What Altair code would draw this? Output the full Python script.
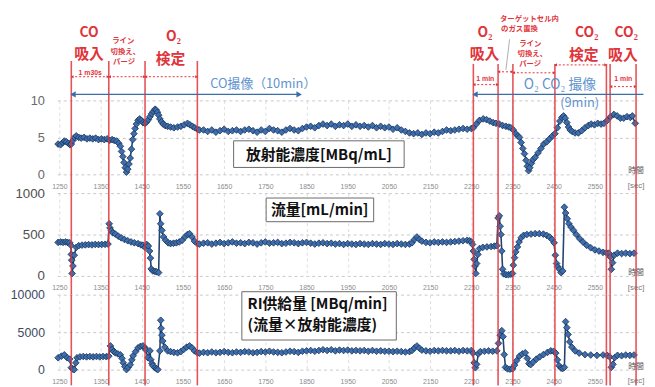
import altair as alt
import pandas as pd

JP = "Noto Sans CJK JP"
LAT = "Liberation Sans"

# ---------------- data ----------------
x_ticks = [1250, 1350, 1450, 1550, 1650, 1750, 1850, 1950, 2050, 2150, 2250, 2350, 2450, 2550]
event_left = [1279, 1370, 1458, 1585]
event_right = [2255, 2315, 2351, 2453, 2578, 2587, 2650]

conc = [(1247,4.1),(1253,4.0),(1258,4.3),(1262,4.5),(1267,4.4),(1272,4.2),(1276,4.0),(1279,4.1),(1283,4.6),
        (1287,5.0),(1291,5.2),(1297,5.0),(1303,4.9),(1310,5.0),(1317,4.8),(1324,4.9),(1331,4.8),(1338,4.9),
        (1345,4.7),(1352,4.8),(1359,4.7),(1366,4.8),(1372,4.6),(1378,4.7),(1383,4.6),(1389,4.5),(1394,4.2),
        (1398,3.8),(1401,3.1),(1404,2.4),(1407,1.6),(1410,0.9),(1413,0.3),(1416,0.7),(1419,1.4),(1422,2.2),
        (1425,3.4),(1428,4.7),(1431,5.5),(1434,6.2),(1437,6.8),(1441,7.3),(1445,7.5),(1449,7.3),(1453,7.0),
        (1458,6.9),(1462,7.1),(1466,7.4),(1470,7.8),(1474,8.2),(1478,8.5),(1482,8.8),(1485,8.7),(1488,8.4),
        (1491,8.0),(1494,7.5),(1498,7.1),(1502,6.8),(1507,6.6),(1513,6.5),(1520,6.4),(1528,6.3),(1537,6.4),
        (1545,6.5),(1553,6.7),(1561,6.9),(1567,6.7),(1573,6.5),(1579,6.3),(1585,6.1),(1590,6.0),(1600,6.0),
        (1610,5.8),(1620,6.0),(1630,5.7),(1640,5.9),(1650,6.1),(1660,5.8),(1670,5.9),(1680,6.0),(1690,5.8),
        (1700,6.0),(1710,6.1),(1720,5.9),(1730,5.7),(1740,6.0),(1750,5.8),(1760,6.2),(1770,6.0),(1780,5.9),
        (1790,5.7),(1800,6.0),(1810,6.2),(1820,6.0),(1830,5.9),(1840,6.2),(1850,6.4),(1860,6.5),(1870,6.3),
        (1880,6.6),(1890,6.8),(1900,6.6),(1910,6.8),(1920,6.5),(1930,6.7),(1940,6.6),(1950,6.8),(1960,6.5),
        (1970,6.7),(1980,6.5),(1990,6.6),(2000,6.4),(2010,6.6),(2020,6.3),(2030,6.5),(2040,6.3),(2050,6.4),
        (2060,6.1),(2070,6.3),(2080,6.0),(2090,5.8),(2100,5.6),(2110,5.5),(2120,5.6),(2130,5.4),(2140,5.6),
        (2150,5.5),(2160,5.7),(2170,5.6),(2180,5.8),(2190,6.0),(2200,5.9),(2210,6.0),(2220,6.1),(2230,6.2),
        (2240,6.1),(2250,6.2),(2255,6.3),(2262,6.8),(2270,7.3),(2279,7.5),(2287,7.4),(2295,7.2),(2303,7.0),
        (2310,6.9),(2318,6.8),(2326,6.6),(2334,6.5),(2341,6.4),(2346,6.3),(2352,6.0),(2358,5.5),(2363,5.2),
        (2367,5.0),(2371,4.3),(2375,3.5),(2379,2.8),(2383,1.9),(2386,1.1),(2389,0.5),(2392,0.9),(2396,1.5),
        (2400,2.0),(2405,2.3),(2412,2.9),(2419,3.5),(2426,4.1),(2433,4.4),(2440,4.8),(2447,5.2),(2453,5.5),
        (2459,6.3),(2465,7.2),(2470,7.7),(2474,7.9),(2478,7.6),(2482,7.0),(2486,6.4),(2490,6.0),(2495,5.8),
        (2502,5.6),(2510,5.6),(2518,5.9),(2526,6.3),(2534,6.6),(2541,6.8),(2549,6.7),(2557,6.9),(2565,6.8),
        (2572,6.9),(2580,7.3),(2588,7.8),(2596,8.1),(2604,7.9),(2612,7.6),(2620,7.6),(2628,7.8),(2636,7.7),
        (2641,7.9),(2648,6.9)]

flow = [(1247,405),(1253,410),(1259,405),(1265,410),(1270,405),(1275,400),(1278,370),(1279,260),(1280,190),
        (1281,30),(1283,120),(1286,250),(1291,345),(1297,365),(1305,372),(1313,375),(1321,378),(1329,375),
        (1337,380),(1345,378),(1353,380),(1361,382),(1368,385),(1371,630),(1373,580),(1376,545),(1380,520),
        (1386,505),(1393,480),(1400,460),(1408,440),(1416,425),(1424,410),(1432,400),(1441,390),(1448,375),
        (1453,370),(1458,345),(1462,380),(1466,360),(1469,300),(1471,215),(1473,85),(1477,60),(1482,55),
        (1486,50),(1491,40),(1494,750),(1496,630),(1499,550),(1503,470),(1508,430),(1514,400),(1520,390),
        (1527,395),(1534,400),(1541,410),(1548,430),(1555,470),(1561,500),(1566,510),(1572,470),(1578,420),
        (1585,390),(1590,385),(1600,395),(1610,400),(1620,385),(1630,395),(1640,405),(1650,390),(1660,400),
        (1670,410),(1680,395),(1690,400),(1700,390),(1710,405),(1720,400),(1730,385),(1740,400),(1750,410),
        (1760,395),(1770,400),(1780,405),(1790,390),(1800,395),(1810,405),(1820,400),(1830,390),(1840,400),
        (1850,405),(1860,395),(1870,385),(1880,395),(1890,400),(1900,390),(1910,395),(1920,385),(1930,390),
        (1940,380),(1950,390),(1960,385),(1970,380),(1980,390),(1990,385),(2000,380),(2010,390),(2020,385),
        (2030,380),(2040,390),(2050,385),(2060,380),(2070,390),(2080,385),(2090,380),(2100,385),(2106,400),
        (2112,440),(2118,470),(2124,440),(2130,420),(2140,405),(2150,400),(2160,410),(2170,405),(2180,410),
        (2190,405),(2200,410),(2210,415),(2220,420),(2230,425),(2240,430),(2246,425),(2250,410),(2253,380),
        (2255,300),(2257,200),(2259,120),(2261,30),(2263,150),(2266,260),(2270,330),(2278,345),(2288,350),
        (2298,355),(2306,360),(2312,365),(2315,700),(2318,725),(2320,600),(2322,500),(2324,300),(2326,80),
        (2329,25),(2334,15),(2340,15),(2346,20),(2350,30),(2352,130),(2355,220),(2358,290),(2362,350),
        (2366,410),(2371,460),(2377,490),(2385,500),(2395,505),(2405,510),(2415,510),(2425,505),(2433,490),
        (2440,470),(2446,440),(2451,400),(2454,250),(2457,150),(2460,110),(2464,80),(2468,40),(2472,60),
        (2476,830),(2479,760),(2483,690),(2487,630),(2492,590),(2498,550),(2505,500),(2513,450),(2521,410),
        (2530,370),(2540,340),(2550,315),(2560,300),(2570,285),(2578,280),(2584,275),(2587,230),(2590,80),
        (2593,160),(2597,250),(2605,275),(2615,270),(2625,275),(2635,270),(2645,275)]

ri = [(1247,1580),(1255,1800),(1262,1970),(1269,1580),(1275,1400),(1279,260),(1283,60),(1286,0),(1290,900),
      (1293,1580),(1300,1700),(1308,1750),(1316,1700),(1324,1750),(1332,1700),(1340,1750),(1348,1700),
      (1356,1750),(1364,1720),(1370,1800),(1374,3160),(1378,2700),(1382,2400),(1386,2240),(1392,2100),
      (1398,1970),(1402,1500),(1405,920),(1409,400),(1413,0),(1417,300),(1422,660),(1426,1300),(1429,1840),
      (1435,2400),(1441,2900),(1447,3100),(1453,3160),(1458,2900),(1460,2630),(1465,1580),(1470,2500),
      (1472,1320),(1475,800),(1477,520),(1482,250),(1486,100),(1489,0),(1494,2500),(1496,6580),(1497,5520),
      (1499,4600),(1501,3820),(1506,3000),(1513,2500),(1520,2400),(1528,2300),(1537,2240),(1545,2400),
      (1552,2700),(1559,3000),(1566,3160),(1572,2900),(1578,2500),(1585,2240),(1590,2200),(1600,2300),
      (1610,2250),(1620,2350),(1630,2250),(1640,2300),(1650,2400),(1660,2300),(1670,2250),(1680,2350),
      (1690,2300),(1700,2400),(1710,2350),(1720,2250),(1730,2300),(1740,2400),(1750,2350),(1760,2450),
      (1770,2350),(1780,2300),(1790,2250),(1800,2350),(1810,2450),(1820,2400),(1830,2300),(1840,2450),
      (1850,2500),(1860,2550),(1870,2450),(1880,2550),(1890,2650),(1900,2550),(1910,2650),(1920,2500),
      (1930,2600),(1940,2550),(1950,2600),(1960,2500),(1970,2550),(1980,2500),(1990,2550),(2000,2450),
      (2010,2550),(2020,2450),(2030,2500),(2040,2450),(2050,2450),(2060,2400),(2070,2450),(2080,2400),
      (2090,2350),(2100,2400),(2106,2550),(2112,2900),(2118,3150),(2124,2850),(2130,2600),(2140,2500),
      (2150,2450),(2160,2550),(2170,2500),(2180,2550),(2190,2500),(2200,2500),(2210,2550),(2220,2450),
      (2230,2550),(2240,2500),(2250,2550),(2254,2200),(2257,900),(2260,250),(2263,700),(2267,2100),
      (2272,2400),(2282,2450),(2292,2500),(2302,2450),(2312,2500),(2316,3500),(2320,4600),(2324,5200),
      (2327,4400),(2330,2000),(2333,300),(2338,100),(2344,50),(2350,100),(2355,600),(2360,1200),(2367,1800),
      (2374,2100),(2381,2240),(2386,1500),(2390,800),(2394,660),(2400,1000),(2408,1400),(2416,1700),
      (2425,2000),(2435,2300),(2443,2500),(2450,2450),(2455,2200),(2459,1300),(2463,520),(2468,200),
      (2472,150),(2476,300),(2479,6400),(2482,5600),(2485,4700),(2489,3700),(2494,3000),(2502,2500),
      (2512,2200),(2526,2000),(2540,1950),(2555,1900),(2570,1950),(2580,1900),(2586,1700),(2590,300),
      (2594,700),(2598,1600),(2605,1900),(2615,1850),(2625,1950),(2635,1900),(2645,1950)]

# ---------------- helpers ----------------
XS = alt.Scale(domain=[1245, 2655], nice=False, zero=False)
XAX = alt.Axis(values=x_ticks, labelFontSize=7, labelColor="#8c8c8c", labelFont=LAT, labelPadding=8,
               domain=False, ticks=False, tickSize=0, grid=True, gridDash=[3, 3], gridColor="#dcdcdc",
               title=None, labelFlush=False, format="d")
W = 589
H1, H2, H3 = 75, 84, 76
GAP = 19
RED = "#e0343b"
BLUE_LINE = "#3b6ea8"
BLUE_TXT = "#5f93cf"


def xenc(field="t"):
    return alt.X(f"{field}:Q", scale=XS, axis=XAX)


def text_layer(rows, size, color, weight="normal", font=JP, align="center"):
    df = pd.DataFrame(rows, columns=["s", "t", "y"])
    return alt.Chart(df).mark_text(fontSize=size, color=color, fontWeight=weight, font=font,
                                   align=align, baseline="middle").encode(
        x=xenc(), y=alt.Y("y:Q", scale=None), text="s:N")


def seg_layer(rows, color, width, dash=None):
    df = pd.DataFrame(rows, columns=["t1", "t2", "y"])
    kw = dict(color=color, strokeWidth=width)
    if dash:
        kw["strokeDash"] = dash
    return alt.Chart(df).mark_rule(**kw).encode(x=xenc("t1"), x2="t2:Q", y=alt.Y("y:Q", scale=None))


def head_layer(rows, shape, color, size):
    df = pd.DataFrame(rows, columns=["t", "y"])
    return alt.Chart(df).mark_point(shape=shape, filled=True, color=color, size=size, opacity=1).encode(
        x=xenc(), y=alt.Y("y:Q", scale=None))


def event_layer(times, top, bottom):
    df = pd.DataFrame({"t": times})
    return alt.Chart(df).mark_rule(color=RED, strokeWidth=1.6, opacity=0.85).encode(
        x=xenc(), y=alt.value(top), y2=alt.value(bottom))


def box_layer(t1, t2, y1, y2):
    df = pd.DataFrame({"t1": [t1], "t2": [t2]})
    return alt.Chart(df).mark_rect(fill="white", stroke="#6a6a6a", strokeWidth=1).encode(
        x=xenc("t1"), x2="t2:Q", y=alt.value(y1), y2=alt.value(y2))


def data_layers(series, ymax, yticks, lab_color, lab_size):
    df = pd.DataFrame(series, columns=["t", "v"])
    yax = alt.Axis(values=yticks, labelFontSize=lab_size, labelColor=lab_color, labelFont=LAT, labelPadding=13,
                   domain=False, ticks=False, tickSize=0, grid=True, gridDash=[3, 3], gridColor="#c8c8c8",
                   title=None, format="d")
    base = alt.Chart(df).encode(
        x=xenc(),
        y=alt.Y("v:Q", scale=alt.Scale(domain=[0, ymax], nice=False), axis=yax))
    line = base.mark_line(color="#24436d", strokeWidth=1.6)
    pts = base.mark_point(shape="diamond", filled=True, size=46, fill="#3d6fae", stroke="#1b3156",
                          strokeWidth=0.8, opacity=1)
    return [line, pts]


def time_label(h):
    return [text_layer([("時間", 2650, h - 3)], 8, "#555"),
            text_layer([("[sec]", 2650, h + 12)], 8, "#777", font=LAT)]


# ---------------- panel 1 (with the header annotations) ----------------
p1_layers = data_layers(conc, 10, [0, 5, 10], "#6a6a6a", 13)
p1_layers += [
    event_layer(event_left, -40, H1 + GAP),
    event_layer(event_right, -37, H1 + GAP),
    box_layer(1673, 2087, 41, 68),
    text_layer([("放射能濃度[MBq/mL]", 1880, 55)], 15, "#111", "bold"),
    # red headings
    text_layer([("CO", 1322, -68), ("O₂", 1527, -64), ("O₂", 2283, -68), ("CO₂", 2530, -68),
                ("CO₂", 2626, -68)], 14, RED, "bold"),
    text_layer([("吸入", 1322, -47), ("検定", 1520, -42), ("吸入", 2282, -47), ("検定", 2523, -46),
                ("吸入", 2618, -46)], 15, RED, "bold"),
    text_layer([("ライン", 1405, -60), ("切換え、", 1410, -49), ("パージ", 1407, -39),
                ("ライン", 2393, -57), ("切換え、", 2398, -47), ("パージ", 2393, -37),
                ("ターゲットセル内", 2391, -83), ("のガス置換", 2367, -72)], 7.5, RED, "bold"),
    text_layer([("1 m30s", 1325, -28), ("1 min", 2284, -22), ("1 min", 2619, -22)], 7, RED, "bold", LAT),
    seg_layer([(1279, 1370, -24), (1370, 1458, -24), (1458, 1585, -24), (2255, 2315, -16),
               (2315, 2351, -29), (2351, 2453, -28), (2453, 2578, -36), (2587, 2650, -14)],
              RED, 1, [2, 2]),
    head_layer([(1281, -24), (1372, -24), (1460, -24), (2257, -16), (2317, -29), (2353, -28),
                (2455, -36), (2589, -14)], "triangle-left", RED, 10),
    head_layer([(1368, -24), (1456, -24), (1583, -24), (2313, -16), (2349, -29), (2451, -28),
                (2576, -36), (2648, -14)], "triangle-right", RED, 10),
    # grey pointer
    alt.Chart(pd.DataFrame({"t1": [2343], "t2": [2334]})).mark_rule(color="#9a9a9a", strokeWidth=0.8).encode(
        x=xenc("t1"), x2="t2:Q", y=alt.value(-62), y2=alt.value(-31)),
    # blue imaging arrows
    seg_layer([(1281, 1834, -6), (2257, 2668, -6)], BLUE_LINE, 1.3),
    head_layer([(1283, -6), (2259, -6)], "triangle-left", BLUE_LINE, 40),
    head_layer([(1832, -6)], "triangle-right", BLUE_LINE, 40),
    text_layer([("CO撮像（10min）", 1745, -17)], 13, BLUE_TXT),
    text_layer([("O₂  CO₂ 撮像", 2465, -16)], 14, BLUE_TXT),
    text_layer([("(9min)", 2513, 3)], 13, BLUE_TXT),
] + time_label(H1)
p1 = alt.layer(*p1_layers).properties(width=W, height=H1)

# ---------------- panel 2 ----------------
p2_layers = data_layers(flow, 1000, [0, 500, 1000], "#505050", 13.5)
p2_layers += [
    event_layer(event_left + event_right, 0, H2 + GAP),
    box_layer(1752, 2013, 5, 29),
    text_layer([("流量[mL/min]", 1882, 17)], 15, "#111", "bold"),
] + time_label(H2)
p2 = alt.layer(*p2_layers).properties(width=W, height=H2)

# ---------------- panel 3 ----------------
p3_layers = data_layers(ri, 10000, [0, 5000, 10000], "#3c4a62", 12.5)
p3_layers += [
    event_layer(event_left + event_right, 0, H3 + 16),
    box_layer(1693, 2068, -3, 46),
    text_layer([("RI供給量 [MBq/min]", 1707, 10), ("(流量×放射能濃度)", 1707, 31)], 15, "#111", "bold",
               align="left"),
] + time_label(H3)
p3 = alt.layer(*p3_layers).properties(width=W, height=H3)

chart = alt.vconcat(p1, p2, p3, spacing=GAP, bounds="flush").properties(
    padding={"left": 2, "top": 4, "right": 2, "bottom": 2},
    background="white",
).configure_view(stroke=None)

chart.save("out.html", embed_options={"renderer": "svg", "actions": False})
